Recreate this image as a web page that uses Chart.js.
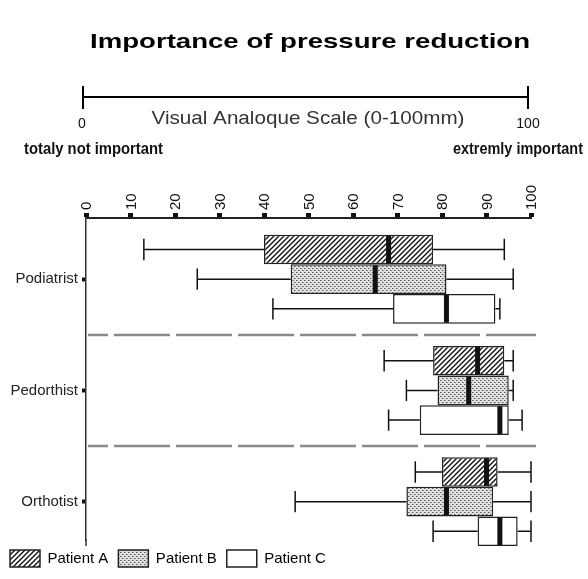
<!DOCTYPE html>
<html>
<head>
<meta charset="utf-8">
<script src="https://cdn.jsdelivr.net/npm/chart.js@4.4.1/dist/chart.umd.min.js"></script>
<style>
  html, body { margin: 0; padding: 0; background: #fff; }
  #wrap { width: 588px; height: 579px; position: relative; }
</style>
</head>
<body>
<div id="wrap"><canvas id="vasChart"></canvas></div>
<script>
// --- data ---
const professions = ["Podiatrist", "Pedorthist", "Orthotist"];
const patients = ["Patient A", "Patient B", "Patient C"];
const xTicks = [0, 10, 20, 30, 40, 50, 60, 70, 80, 90, 100];

// per patient: one value per profession
const whiskerMin = [[13, 67, 74], [25, 72, 47], [42, 68, 78]];
const quart1     = [[40, 78, 80], [46, 79, 72], [69, 75, 88]];
const medians    = [[68, 88, 90], [65, 86, 81], [81, 93, 93]];
const quart3     = [[78, 94, 92.5], [81, 95, 91.5], [92, 95, 97]];
const whiskerMax = [[94, 96, 100], [96, 96, 100], [93, 98, 100]];

const FONT = "Arial, 'Liberation Sans', sans-serif";

// --- fill patterns ---
function hatchPattern() {
    const c = document.createElement("canvas");
    c.width = 5; c.height = 5;
    const g = c.getContext("2d");
    g.fillStyle = "#fff";
    g.fillRect(0, 0, 5, 5);
    g.strokeStyle = "#111";
    g.lineWidth = 1.4;
    g.beginPath();
    g.moveTo(-1, 6); g.lineTo(6, -1);
    g.moveTo(-1, 1); g.lineTo(1, -1);
    g.moveTo(4, 6); g.lineTo(6, 4);
    g.stroke();
    return g.createPattern(c, "repeat");
}

function dotPattern() {
    const c = document.createElement("canvas");
    c.width = 4; c.height = 4;
    const g = c.getContext("2d");
    g.fillStyle = "#e0e0e0";
    g.fillRect(0, 0, 4, 4);
    g.fillStyle = "#5a5a5a";
    g.fillRect(0, 0, 1, 1);
    g.fillRect(2, 2, 1, 1);
    g.fillStyle = "#999";
    g.fillRect(1, 0, 1, 1);
    g.fillRect(3, 2, 1, 1);
    return g.createPattern(c, "repeat");
}

const fills = [hatchPattern(), dotPattern(), "#ffffff"];

// text squeezed/stretched to a given width
function fitText(ctx, text, x, y, width, align) {
    const w = ctx.measureText(text).width;
    const s = width / w;
    let left = x;
    if (align === "center") left = x - width / 2;
    if (align === "right") left = x - width;
    ctx.save();
    ctx.translate(left, y);
    ctx.scale(s, 1);
    ctx.textAlign = "left";
    ctx.fillText(text, 0, 0);
    ctx.restore();
}

// header: title, VAS scale, anchors
const headerPlugin = {
    id: "header",
    afterDraw(chart) {
        const ctx = chart.ctx;
        const x0 = chart.scales.x.getPixelForValue(0) - 3;
        const x1 = chart.scales.x.getPixelForValue(100) - 3;
        ctx.save();
        ctx.fillStyle = "#000";
        ctx.textBaseline = "middle";
        ctx.font = "bold 21px " + FONT;
        fitText(ctx, "Importance of pressure reduction", 310, 42, 440, "center");

        ctx.strokeStyle = "#000";
        ctx.lineWidth = 2;
        ctx.beginPath();
        ctx.moveTo(x0, 97); ctx.lineTo(x1, 97);
        ctx.moveTo(x0, 86); ctx.lineTo(x0, 109);
        ctx.moveTo(x1, 86); ctx.lineTo(x1, 109);
        ctx.stroke();

        ctx.fillStyle = "#333";
        ctx.font = "19px " + FONT;
        fitText(ctx, "Visual Analoque Scale (0-100mm)", 308, 119, 313, "center");
        ctx.fillStyle = "#111";
        ctx.font = "14px " + FONT;
        ctx.textAlign = "center";
        ctx.fillText("0", x0 - 1, 124);
        ctx.fillText("100", x1, 124);

        ctx.font = "bold 16px " + FONT;
        fitText(ctx, "totaly not important", 24, 150, 139, "left");
        fitText(ctx, "extremly important", 583, 150, 130, "right");
        ctx.restore();
    }
};

// whiskers, medians and dashed separators
const boxPlugin = {
    id: "boxparts",
    afterDatasetsDraw(chart) {
        const ctx = chart.ctx;
        const xs = chart.scales.x;
        const ys = chart.scales.y;
        const area = chart.chartArea;
        ctx.save();

        // the left axis runs a little past the last box
        ctx.strokeStyle = "#333";
        ctx.lineWidth = 1.5;
        ctx.beginPath();
        ctx.moveTo(area.left, area.bottom - 1);
        ctx.lineTo(area.left, area.bottom + 6);
        ctx.stroke();

        // separators between professions
        ctx.strokeStyle = "#8a8a8a";
        ctx.lineWidth = 2.5;
        ctx.setLineDash([56, 6]);
        ctx.lineDashOffset = 36;
        for (let i = 0; i < professions.length - 1; i++) {
            const y = Math.round(ys.getPixelForValue(i + 0.5));
            ctx.beginPath();
            ctx.moveTo(area.left + 2, y);
            ctx.lineTo(area.right + 5, y);
            ctx.stroke();
        }
        ctx.setLineDash([]);

        ctx.strokeStyle = "#111";
        ctx.fillStyle = "#111";
        ctx.lineWidth = 1.5;
        patients.forEach((p, d) => {
            const meta = chart.getDatasetMeta(d);
            meta.data.forEach((bar, j) => {
                const y = bar.y;
                const h = bar.height;
                const cap = h * 0.36;
                const pMin = xs.getPixelForValue(whiskerMin[d][j]);
                const pQ1 = xs.getPixelForValue(quart1[d][j]);
                const pQ3 = xs.getPixelForValue(quart3[d][j]);
                const pMax = xs.getPixelForValue(whiskerMax[d][j]);
                const pMed = xs.getPixelForValue(medians[d][j]);
                ctx.beginPath();
                ctx.moveTo(pMin, y); ctx.lineTo(pQ1, y);
                ctx.moveTo(pQ3, y); ctx.lineTo(pMax, y);
                ctx.moveTo(pMin, y - cap); ctx.lineTo(pMin, y + cap);
                ctx.moveTo(pMax, y - cap); ctx.lineTo(pMax, y + cap);
                ctx.stroke();
                ctx.fillRect(pMed - 2.5, y - h / 2 + 1, 5, h - 2);
            });
        });
        ctx.restore();
    }
};

const datasets = patients.map((name, d) => ({
    label: name,
    data: professions.map((p, j) => ({ x: [quart1[d][j], quart3[d][j]], y: j })),
    backgroundColor: fills[d],
    borderColor: "#222",
    borderWidth: 1.5,
    borderSkipped: false,
    clip: false,
    categoryPercentage: 0.8,
    barPercentage: 1.0
}));

new Chart(document.getElementById("vasChart"), {
    type: "bar",
    data: { datasets: datasets },
    plugins: [headerPlugin, boxPlugin],
    options: {
        indexAxis: "y",
        responsive: true,
        maintainAspectRatio: false,
        animation: false,
        layout: { padding: { top: 182, left: 0, right: 57, bottom: 2 } },
        plugins: {
            tooltip: { enabled: false },
            legend: {
                position: "bottom",
                align: "start",
                labels: {
                    boxWidth: 30,
                    boxHeight: 17,
                    padding: 10,
                    color: "#111",
                    font: { size: 15, family: FONT },
                    generateLabels: () => patients.map((name, d) => ({
                        text: name,
                        fillStyle: fills[d],
                        strokeStyle: "#222",
                        lineWidth: 1.5,
                        datasetIndex: d
                    }))
                }
            }
        },
        scales: {
            x: {
                type: "linear",
                position: "top",
                min: 0,
                max: 100,
                afterBuildTicks: (scale) => { scale.ticks = xTicks.map(v => ({ value: v })); },
                grid: { drawOnChartArea: false, tickLength: 5, tickWidth: 5, color: "#111" },
                border: { color: "#222", width: 2 },
                ticks: {
                    minRotation: 90,
                    maxRotation: 90,
                    padding: 3,
                    labelOffset: 19,
                    color: "#111",
                    font: { size: 15, family: FONT }
                }
            },
            y: {
                type: "linear",
                reverse: true,
                offset: false,
                min: -0.55,
                max: 2.345,
                afterBuildTicks: (scale) => { scale.ticks = professions.map((p, i) => ({ value: i })); },
                afterFit: (scale) => { scale.width = 86; },
                grid: { offset: false, drawOnChartArea: false, tickLength: 4, tickWidth: 4, color: "#111" },
                border: { color: "#333", width: 1.5 },
                ticks: {
                    padding: 4,
                    color: "#222",
                    font: { size: 15, family: FONT },
                    callback: (v) => professions[v] !== undefined ? professions[v] : ""
                }
            }
        }
    }
});
</script>
</body>
</html>
